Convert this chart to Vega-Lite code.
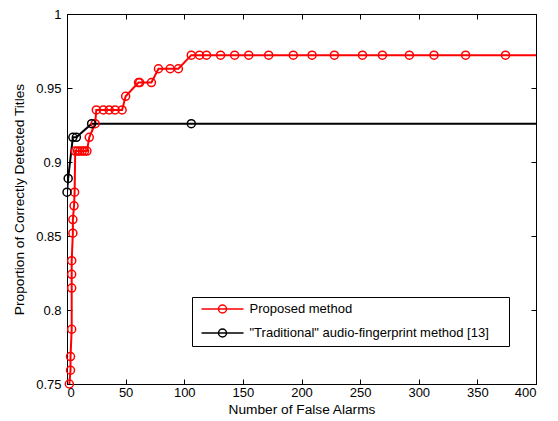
{
  "$schema": "https://vega.github.io/schema/vega-lite/v6.json",
  "width": 469,
  "height": 370,
  "autosize": "none",
  "padding": {"left": 67, "top": 14, "right": 22, "bottom": 37},
  "background": "white",
  "config": {
    "view": {"stroke": "black", "strokeWidth": 1},
    "font": "Liberation Sans",
    "axis": {
      "grid": false,
      "domainColor": "black",
      "tickColor": "black",
      "tickSize": -5,
      "labelColor": "black",
      "labelFont": "Liberation Sans",
      "labelFontSize": 13,
      "titleFont": "Liberation Sans",
      "titleFontSize": 13.7,
      "titleFontWeight": "normal",
      "titleColor": "black"
    }
  },
  "data": {
    "values": [
      {"s": "Proposed method", "i": 0, "x": 2, "y": 0.75, "m": true},
      {"s": "Proposed method", "i": 1, "x": 3, "y": 0.7593, "m": true},
      {"s": "Proposed method", "i": 2, "x": 3, "y": 0.7685, "m": true},
      {"s": "Proposed method", "i": 3, "x": 4, "y": 0.787, "m": true},
      {"s": "Proposed method", "i": 4, "x": 4, "y": 0.8148, "m": true},
      {"s": "Proposed method", "i": 5, "x": 4, "y": 0.8241, "m": true},
      {"s": "Proposed method", "i": 6, "x": 4, "y": 0.8333, "m": true},
      {"s": "Proposed method", "i": 7, "x": 5, "y": 0.8519, "m": true},
      {"s": "Proposed method", "i": 8, "x": 5, "y": 0.8611, "m": true},
      {"s": "Proposed method", "i": 9, "x": 6, "y": 0.8704, "m": true},
      {"s": "Proposed method", "i": 10, "x": 6.5, "y": 0.8796, "m": true},
      {"s": "Proposed method", "i": 11, "x": 7, "y": 0.9074, "m": true},
      {"s": "Proposed method", "i": 12, "x": 9, "y": 0.9074, "m": true},
      {"s": "Proposed method", "i": 13, "x": 11, "y": 0.9074, "m": true},
      {"s": "Proposed method", "i": 14, "x": 13, "y": 0.9074, "m": true},
      {"s": "Proposed method", "i": 15, "x": 15, "y": 0.9074, "m": true},
      {"s": "Proposed method", "i": 16, "x": 17, "y": 0.9074, "m": true},
      {"s": "Proposed method", "i": 17, "x": 19, "y": 0.9167, "m": true},
      {"s": "Proposed method", "i": 18, "x": 24, "y": 0.9259, "m": true},
      {"s": "Proposed method", "i": 19, "x": 25, "y": 0.9352, "m": true},
      {"s": "Proposed method", "i": 20, "x": 31, "y": 0.9352, "m": true},
      {"s": "Proposed method", "i": 21, "x": 36, "y": 0.9352, "m": true},
      {"s": "Proposed method", "i": 22, "x": 41, "y": 0.9352, "m": true},
      {"s": "Proposed method", "i": 23, "x": 47, "y": 0.9352, "m": true},
      {"s": "Proposed method", "i": 24, "x": 50, "y": 0.9444, "m": true},
      {"s": "Proposed method", "i": 25, "x": 61, "y": 0.9537, "m": true},
      {"s": "Proposed method", "i": 26, "x": 62, "y": 0.9537, "m": true},
      {"s": "Proposed method", "i": 27, "x": 72, "y": 0.9537, "m": true},
      {"s": "Proposed method", "i": 28, "x": 78, "y": 0.963, "m": true},
      {"s": "Proposed method", "i": 29, "x": 88, "y": 0.963, "m": true},
      {"s": "Proposed method", "i": 30, "x": 95, "y": 0.963, "m": true},
      {"s": "Proposed method", "i": 31, "x": 106, "y": 0.9722, "m": true},
      {"s": "Proposed method", "i": 32, "x": 113, "y": 0.9722, "m": true},
      {"s": "Proposed method", "i": 33, "x": 119, "y": 0.9722, "m": true},
      {"s": "Proposed method", "i": 34, "x": 131, "y": 0.9722, "m": true},
      {"s": "Proposed method", "i": 35, "x": 143, "y": 0.9722, "m": true},
      {"s": "Proposed method", "i": 36, "x": 155, "y": 0.9722, "m": true},
      {"s": "Proposed method", "i": 37, "x": 172, "y": 0.9722, "m": true},
      {"s": "Proposed method", "i": 38, "x": 193, "y": 0.9722, "m": true},
      {"s": "Proposed method", "i": 39, "x": 209, "y": 0.9722, "m": true},
      {"s": "Proposed method", "i": 40, "x": 228, "y": 0.9722, "m": true},
      {"s": "Proposed method", "i": 41, "x": 252, "y": 0.9722, "m": true},
      {"s": "Proposed method", "i": 42, "x": 269, "y": 0.9722, "m": true},
      {"s": "Proposed method", "i": 43, "x": 292, "y": 0.9722, "m": true},
      {"s": "Proposed method", "i": 44, "x": 313, "y": 0.9722, "m": true},
      {"s": "Proposed method", "i": 45, "x": 340, "y": 0.9722, "m": true},
      {"s": "Proposed method", "i": 46, "x": 374, "y": 0.9722, "m": true},
      {"s": "Proposed method", "i": 47, "x": 400, "y": 0.9722, "m": false},
      {"s": "\"Traditional\" audio-fingerprint method [13]", "i": 0, "x": 0, "y": 0.8796, "m": true},
      {"s": "\"Traditional\" audio-fingerprint method [13]", "i": 1, "x": 1, "y": 0.8889, "m": true},
      {"s": "\"Traditional\" audio-fingerprint method [13]", "i": 2, "x": 5, "y": 0.9167, "m": true},
      {"s": "\"Traditional\" audio-fingerprint method [13]", "i": 3, "x": 8, "y": 0.9167, "m": true},
      {"s": "\"Traditional\" audio-fingerprint method [13]", "i": 4, "x": 21, "y": 0.9259, "m": true},
      {"s": "\"Traditional\" audio-fingerprint method [13]", "i": 5, "x": 106, "y": 0.9259, "m": true},
      {"s": "\"Traditional\" audio-fingerprint method [13]", "i": 6, "x": 400, "y": 0.9259, "m": false}
    ]
  },
  "layer": [
    {
      "mark": {"type": "line", "strokeWidth": 2, "clip": true},
      "encoding": {
        "x": {"field": "x", "type": "quantitative", "scale": {"domain": [0, 400], "nice": false},
              "axis": {"orient": "bottom", "title": "Number of False Alarms", "values": [0, 50, 100, 150, 200, 250, 300, 350, 400], "labelPadding": 7, "titlePadding": 3}},
        "y": {"field": "y", "type": "quantitative", "scale": {"domain": [0.75, 1], "nice": false, "zero": false},
              "axis": {"orient": "left", "title": "Proportion of Correctly Detected Titles", "values": [0.75, 0.8, 0.85, 0.9, 0.95, 1], "format": "~g", "labelPadding": 11, "titlePadding": 9}},
        "color": {"field": "s", "type": "nominal",
                  "scale": {"domain": ["Proposed method", "\"Traditional\" audio-fingerprint method [13]"], "range": ["#ff0000", "#000000"]},
                  "legend": {"orient": "none", "legendX": 125, "legendY": 283, "title": " ", "titleOrient": "right", "titlePadding": 15, "titleFontSize": 13,
                             "symbolType": "M-4.2,0H4.2M0.8,0A0.8,0.8,0,1,1,-0.8,0A0.8,0.8,0,1,1,0.8,0",
                             "symbolSize": 100, "symbolStrokeWidth": 1.5, "symbolOffset": 18.5, "labelOffset": 20.5,
                             "labelFont": "Liberation Sans", "labelFontSize": 13, "labelColor": "black",
                             "fillColor": "white", "strokeColor": "black", "padding": 5.5, "rowPadding": 9, "labelLimit": 400}},
        "order": {"field": "i", "type": "quantitative"}
      }
    },
    {
      "transform": [{"filter": "datum.m"}],
      "mark": {"type": "point", "shape": "circle", "filled": false, "size": 64, "strokeWidth": 1.5, "opacity": 1},
      "encoding": {
        "x": {"field": "x", "type": "quantitative", "axis": null},
        "y": {"field": "y", "type": "quantitative", "axis": null},
        "color": {"field": "s", "type": "nominal"}
      }
    },
    {
      "mark": {"type": "point", "opacity": 0},
      "encoding": {
        "x": {"field": "x", "type": "quantitative", "axis": {"orient": "top", "labels": false, "title": null, "domain": false, "values": [0, 50, 100, 150, 200, 250, 300, 350, 400]}},
        "y": {"field": "y", "type": "quantitative", "axis": {"orient": "right", "labels": false, "title": null, "domain": false, "values": [0.75, 0.8, 0.85, 0.9, 0.95, 1]}}
      }
    }
  ],
  "resolve": {"axis": {"x": "independent", "y": "independent"}}
}
